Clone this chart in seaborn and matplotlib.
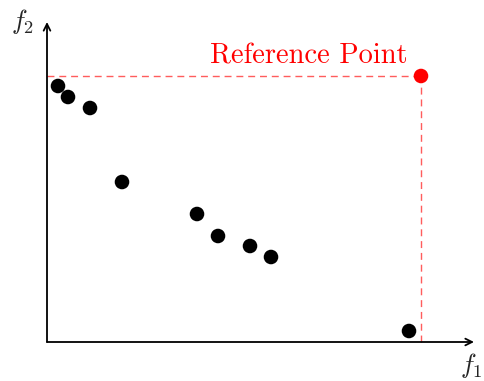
import matplotlib
matplotlib.use("Agg")
import matplotlib.pyplot as plt
import seaborn as sns
import pandas as pd

# Objective values of the solution set (f1, f2)
f1_values = [11, 21, 43, 75, 150, 171, 203, 224, 362]
f2_values = [256, 245, 234, 160, 128, 106, 96, 85, 11]

# Reference point used for the hypervolume
ref_f1 = 374
ref_f2 = 266
ref_label = "Reference Point"

sns.set_theme(style="white")
plt.rcParams["mathtext.fontset"] = "cm"
plt.rcParams["font.family"] = ["cmr10", "DejaVu Serif"]
plt.rcParams["axes.formatter.use_mathtext"] = True

df = pd.DataFrame({"f1": f1_values, "f2": f2_values})

fig = plt.figure(figsize=(4.84, 3.81), dpi=100)
ax = fig.add_axes([0, 0, 1, 1])
ax.set_xlim(-47, 437)
ax.set_ylim(-39, 342)
ax.axis("off")

# Coordinate axes with arrow heads
arrow = dict(arrowstyle="->", color="black", lw=1.3, mutation_scale=12,
             shrinkA=0, shrinkB=0)
ax.annotate("", xy=(427, 0), xytext=(0, 0), arrowprops=arrow)
ax.annotate("", xy=(0, 320), xytext=(0, 0), arrowprops=arrow)
ax.text(424, -23, r"$f_1$", fontsize=19, ha="center", va="center")
ax.text(-24, 321, r"$f_2$", fontsize=19, ha="center", va="center")

# Dashed guides from the reference point to the axes
ax.plot([0, ref_f1], [ref_f2, ref_f2], color="#ff4040", lw=1, ls=(0, (5, 3.5)),
        alpha=0.85)
ax.plot([ref_f1, ref_f1], [0, ref_f2], color="#ff4040", lw=1, ls=(0, (5, 3.5)),
        alpha=0.85)

sns.scatterplot(data=df, x="f1", y="f2", ax=ax, color="black", s=110,
                edgecolor="none", zorder=3, legend=False)
ax.scatter([ref_f1], [ref_f2], color="red", s=110, edgecolor="none", zorder=4)
ax.text(ref_f1 - 13, ref_f2 + 7, ref_label, color="red", fontsize=20.5,
        ha="right", va="bottom")

fig.savefig("out.png", dpi=100)
